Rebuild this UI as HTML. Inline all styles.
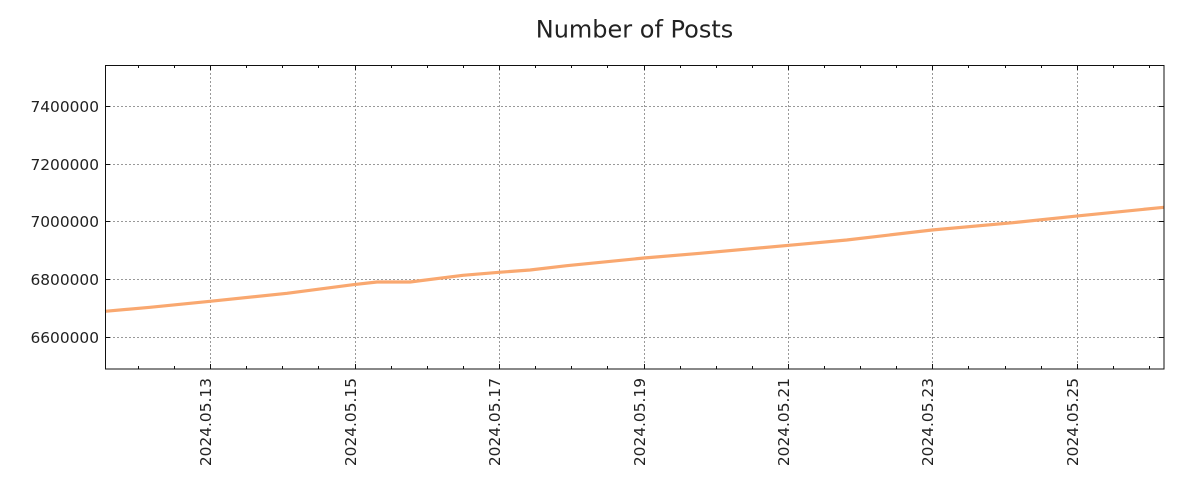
<!DOCTYPE html>
<html>
<head>
<meta charset="utf-8">
<style>
html, body { margin: 0; padding: 0; background: #ffffff; }
body { width: 1200px; height: 500px; overflow: hidden; }
svg { display: block; }
text { font-family: "DejaVu Sans", "Liberation Sans", sans-serif; fill: #222222; }
</style>
</head>
<body>
<svg width="1200" height="500" viewBox="0 0 1200 500" xmlns="http://www.w3.org/2000/svg">
<rect x="0" y="0" width="1200" height="500" fill="#ffffff"/>
<text x="634.5" y="37.7" font-size="24" text-anchor="middle">Number of Posts</text>
<g stroke="#999999" stroke-width="1" stroke-dasharray="2,2" shape-rendering="crispEdges" fill="none">
<path d="M105 106.5H1164M105 164.5H1164M105 221.5H1164M105 279.5H1164M105 337.5H1164"/>
<path d="M210.5 65V369M355.5 65V369M499.5 65V369M644.5 65V369M788.5 65V369M932.5 65V369M1077.5 65V369"/>
</g>
<polyline fill="none" stroke="#f9a870" stroke-width="3.2" stroke-linejoin="round" points="105,311.3 150,307.3 210,301.3 287,293.3 353,284.7 377,282 410,282 463,275.3 499,272.3 530,270 566.7,265.7 644,258 700,253.3 800,244.3 846.7,240 932,230 1013,222.7 1080,215.7 1164,207.3"/>
<rect x="105.5" y="65.5" width="1058.5" height="303.5" fill="none" stroke="#111111" stroke-width="1.2" shape-rendering="crispEdges"/>
<g stroke="#111111" stroke-width="1.2" shape-rendering="crispEdges" fill="none">
<path d="M105 106.5H110M105 164.5H110M105 221.5H110M105 279.5H110M105 337.5H110"/>
<path d="M1159 106.5H1164M1159 164.5H1164M1159 221.5H1164M1159 279.5H1164M1159 337.5H1164"/>
<path d="M210.5 65V70M355.5 65V70M499.5 65V70M644.5 65V70M788.5 65V70M932.5 65V70M1077.5 65V70"/>
<path d="M210.5 364V369M355.5 364V369M499.5 364V369M644.5 364V369M788.5 364V369M932.5 364V369M1077.5 364V369"/>
</g>
<g stroke="#111111" stroke-width="1" shape-rendering="crispEdges" fill="none">
<path d="M138.5 65V68M174.5 65V68M246.5 65V68M282.5 65V68M318.5 65V68M391.5 65V68M427.5 65V68M463.5 65V68M535.5 65V68M571.5 65V68M607.5 65V68M680.5 65V68M716.5 65V68M752.5 65V68M824.5 65V68M860.5 65V68M896.5 65V68M968.5 65V68M1005.5 65V68M1041.5 65V68M1113.5 65V68M1149.5 65V68"/>
<path d="M138.5 366V369M174.5 366V369M246.5 366V369M282.5 366V369M318.5 366V369M391.5 366V369M427.5 366V369M463.5 366V369M535.5 366V369M571.5 366V369M607.5 366V369M680.5 366V369M716.5 366V369M752.5 366V369M824.5 366V369M860.5 366V369M896.5 366V369M968.5 366V369M1005.5 366V369M1041.5 366V369M1113.5 366V369M1149.5 366V369"/>
</g>
<g font-size="15.4" text-anchor="end">
<text x="99" y="112">7400000</text>
<text x="99" y="169.8">7200000</text>
<text x="99" y="227">7000000</text>
<text x="99" y="285">6800000</text>
<text x="99" y="343">6600000</text>
</g>
<g font-size="15.4" text-anchor="end">
<text transform="translate(211,378) rotate(-90)">2024.05.13</text>
<text transform="translate(356,378) rotate(-90)">2024.05.15</text>
<text transform="translate(500,378) rotate(-90)">2024.05.17</text>
<text transform="translate(645,378) rotate(-90)">2024.05.19</text>
<text transform="translate(789,378) rotate(-90)">2024.05.21</text>
<text transform="translate(933,378) rotate(-90)">2024.05.23</text>
<text transform="translate(1078,378) rotate(-90)">2024.05.25</text>
</g>
</svg>
</body>
</html>
